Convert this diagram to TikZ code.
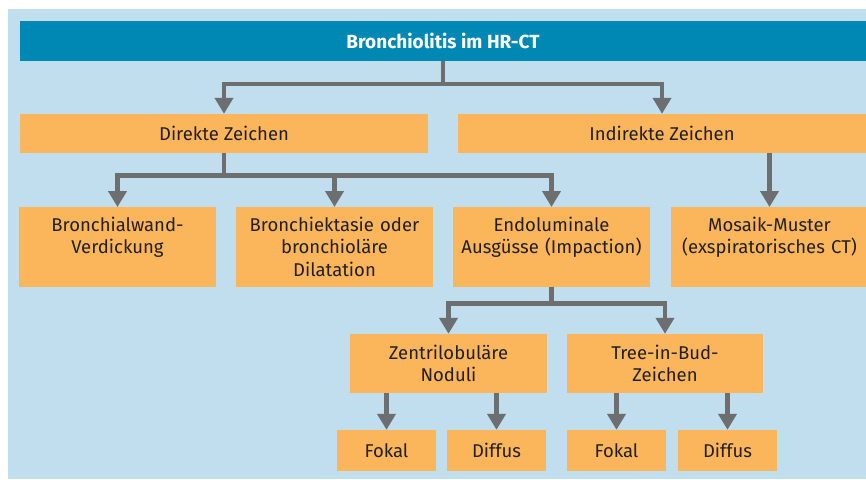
\documentclass[tikz,border=0pt]{standalone}
\usepackage{fontspec}
\setmainfont{Fira Sans}
\usetikzlibrary{arrows.meta}
\definecolor{panelblue}{HTML}{C0DEEE}
\definecolor{titleblue}{HTML}{0088B5}
\definecolor{boxorange}{HTML}{FBB65C}
\definecolor{arrowgray}{HTML}{6D6E70}
\definecolor{textdark}{HTML}{231F20}
\tikzset{
  box/.style={rectangle, fill=boxorange, inner sep=0pt, text=textdark,
    font=\fontsize{18.5}{22.5}\selectfont, align=center},
  toptext/.style={box, text width=#1, text height=24pt, text depth=56pt},
  flow/.style={draw=arrowgray, line width=4.5pt,
    -{Triangle[width=18pt,length=16pt]}},
}
\begin{document}
\begin{tikzpicture}[x=1pt,y=-1pt]
  \useasboundingbox (0,0) rectangle (866,479);
  \fill[panelblue] (8,9) rectangle (866,479);
  % root
  \node[rectangle, fill=titleblue, text=white, inner sep=0pt,
    minimum width=846pt, minimum height=40pt,
    font=\fontsize{19}{22}\selectfont\bfseries] (root) at (443,41)
    {Bronchiolitis im HR-CT};
  % level 1
  \node[box, minimum width=408pt, minimum height=39pt] (direkt) at (224,133.5) {Direkte Zeichen};
  \node[box, minimum width=408pt, minimum height=39pt] (indirekt) at (662,133.5) {Indirekte Zeichen};
  % level 2
  \node[toptext=197pt] (wand) at (117.5,207) [anchor=north] {Bronchialwand-\\Verdickung};
  \node[toptext=197pt] (ektasie) at (334.5,207) [anchor=north] {Bronchiektasie oder\\bronchioläre\\Dilatation};
  \node[toptext=197pt] (endo) at (551.5,207) [anchor=north] {Endoluminale\\Ausgüsse (Impaction)};
  \node[toptext=197pt] (mosaik) at (769.5,207) [anchor=north] {Mosaik-Muster\\(exspiratorisches CT)};
  % level 3
  \node[box, text width=197pt, minimum height=59pt] (zentri) at (448.5,363.5) {Zentrilobuläre\\Noduli};
  \node[box, text width=196pt, minimum height=59pt] (tib) at (665,363.5) {Tree-in-Bud-\\Zeichen};
  % level 4
  \node[box, minimum width=99pt, minimum height=41pt] (fokalA) at (386.5,450.5) {Fokal};
  \node[box, minimum width=99pt, minimum height=41pt] (diffusA) at (496.5,450.5) {Diffus};
  \node[box, minimum width=99pt, minimum height=41pt] (fokalB) at (616.5,450.5) {Fokal};
  \node[box, minimum width=99pt, minimum height=41pt] (diffusB) at (727.5,450.5) {Diffus};

  % root to level 1
  \draw[flow] (root.south) -- ++(0,23) -| (direkt.north);
  \draw[flow] (root.south) -- ++(0,23) -| (indirekt.north);
  % level 1 to level 2
  \draw[flow] (direkt.south) -- ++(0,22.5) -| (wand.north);
  \draw[flow] (direkt.south) -- ++(0,22.5) -| (ektasie.north);
  \draw[flow] (direkt.south) -- ++(0,22.5) -| (endo.north);
  \draw[flow] (indirekt.south -| mosaik.north) -- (mosaik.north);
  % level 2 to level 3
  \draw[flow] (endo.south) -- ++(0,16) -| (zentri.north);
  \draw[flow] (endo.south) -- ++(0,16) -| (tib.north);
  % level 3 to level 4
  \draw[flow] (zentri.south -| fokalA.north) -- (fokalA.north);
  \draw[flow] (zentri.south -| diffusA.north) -- (diffusA.north);
  \draw[flow] (tib.south -| fokalB.north) -- (fokalB.north);
  \draw[flow] (tib.south -| diffusB.north) -- (diffusB.north);
\end{tikzpicture}
\end{document}
